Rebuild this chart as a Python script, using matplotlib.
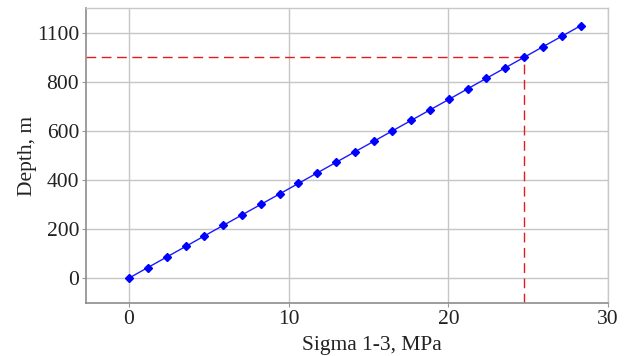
import matplotlib
matplotlib.use("Agg")
import matplotlib.pyplot as plt

plt.rcParams['font.family'] = ['Liberation Serif', 'DejaVu Serif']

# data
sigma = [0, 1.18, 2.36, 3.54, 4.71, 5.89, 7.07, 8.25, 9.43, 10.61, 11.79, 12.96,
         14.14, 15.32, 16.50, 17.68, 18.86, 20.04, 21.21, 22.39, 23.57, 24.75,
         25.93, 27.11, 28.29]
depth = [0, 42.9, 85.7, 128.6, 171.4, 214.3, 257.1, 300.0, 342.9, 385.7, 428.6,
         471.4, 514.3, 557.1, 600.0, 642.9, 685.7, 728.6, 771.4, 814.3, 857.1,
         900.0, 942.9, 985.7, 1028.6]
target_sigma = 24.75
target_depth = 900
xticks = [0, 10, 20, 30]
yticks = [0, 200, 400, 600, 800, 1000]
ytick_labels = ['0', '200', '400', '600', '800', '1100']

fig = plt.figure(figsize=(6.32, 3.56), dpi=100)
ax = fig.add_axes([0.136, 0.148, 0.826, 0.829])

xmin, xmax = -2.7, 30
ymin, ymax = -103, 1100

ax.plot(sigma, depth, color='#1a1aff', lw=1, marker='D', ms=4.2,
        mfc='#0000ff', mec='#0000ff', zorder=3)
ax.plot([xmin, target_sigma], [target_depth, target_depth], color='#e41a1c',
        lw=1, dashes=(7, 4), zorder=2)
ax.plot([target_sigma, target_sigma], [ymin, target_depth], color='#e41a1c',
        lw=1, dashes=(7, 4), zorder=2)

ax.set_xlim(xmin, xmax)
ax.set_ylim(ymin, ymax)
ax.set_xticks(xticks)
ax.set_yticks(yticks)
ax.set_yticklabels(ytick_labels)
ax.grid(True, color='#c6c6c6', lw=1)
ax.set_axisbelow(True)

for s in ['left', 'bottom']:
    ax.spines[s].set_color('#8c8c8c')
    ax.spines[s].set_linewidth(1.2)
for s in ['top', 'right']:
    ax.spines[s].set_color('#c8c8c8')
    ax.spines[s].set_linewidth(1)

ax.tick_params(axis='both', colors='#999999', labelcolor='#222222',
               labelsize=15.5, length=3, width=0.8, pad=2)

ax.set_xlabel('Sigma 1-3, MPa', fontsize=15.5, color='#222222', labelpad=0)
ax.xaxis.set_label_coords(0.547, -0.11)
ax.set_ylabel('Depth, m', fontsize=15.5, color='#222222', labelpad=0)

fig.savefig('out.png', dpi=100)
